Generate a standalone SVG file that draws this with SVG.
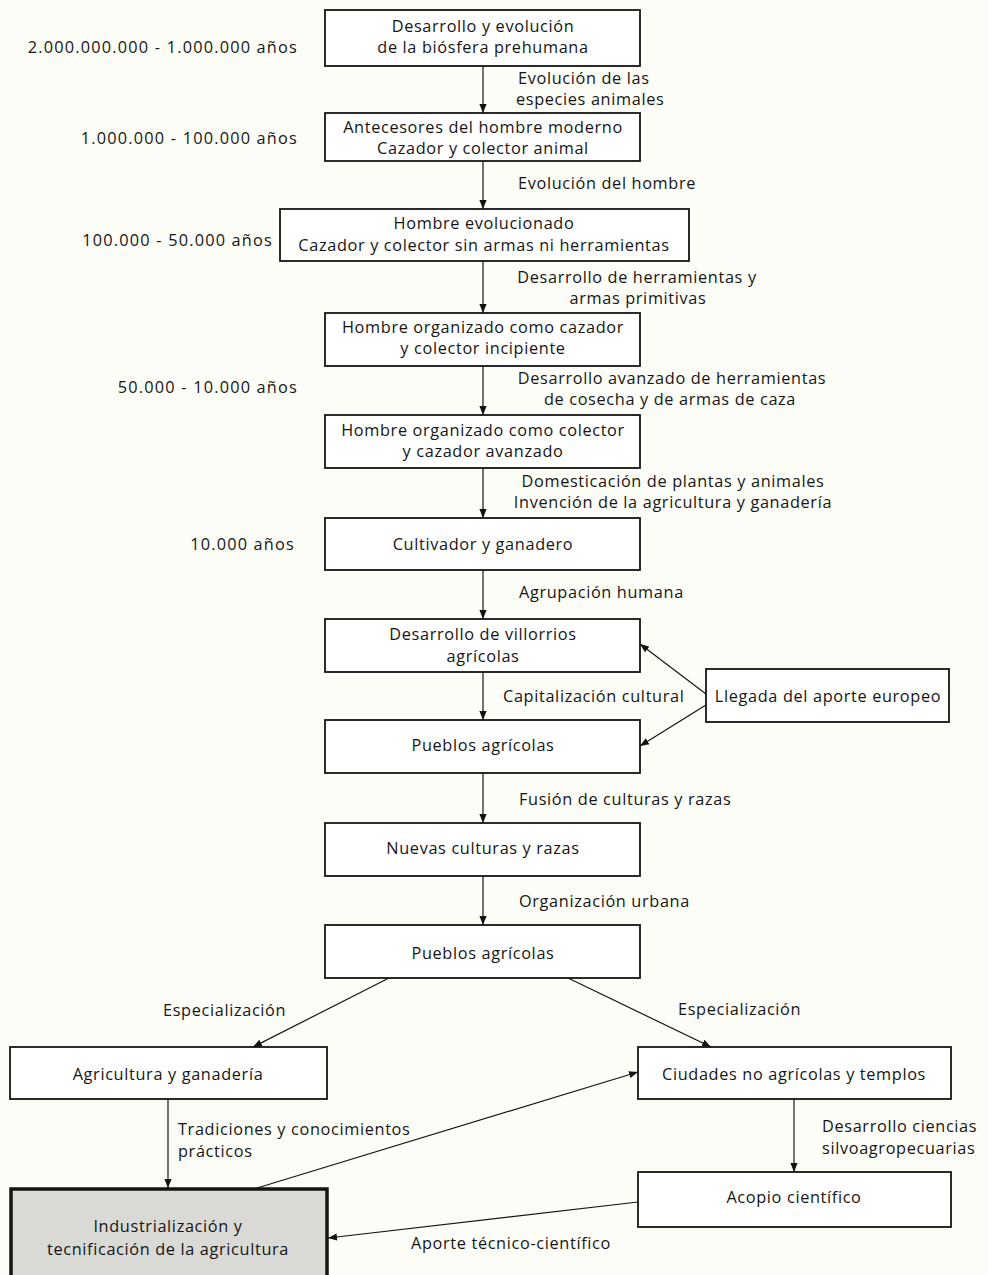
<svg xmlns="http://www.w3.org/2000/svg" width="988" height="1275" viewBox="0 0 988 1275">
<defs>
<marker id="ah" viewBox="0 0 10 10" refX="10" refY="5" markerWidth="9" markerHeight="9" markerUnits="userSpaceOnUse" orient="auto"><path d="M0,1 L10,5 L0,9 z" fill="#111"/></marker>
<style>
text{font-family:"Open Sans","Liberation Sans",sans-serif;font-size:16.3px;letter-spacing:0.65px;fill:#151515}
.c{text-anchor:middle}
.y{text-anchor:end;letter-spacing:1.2px}
.box{fill:#fff;stroke:#151515;stroke-width:1.8}
.hl{fill:#d9d9d6;stroke:#151515;stroke-width:3.5}
.e{stroke:#151515;stroke-width:1.2;fill:none;marker-end:url(#ah)}
</style>
</defs>
<rect width="988" height="1275" fill="#fdfdf7"/>
<g id="years">
<text x="298" y="53" class="y">2.000.000.000 - 1.000.000 años</text>
<text x="298" y="144" class="y">1.000.000 - 100.000 años</text>
<text x="273" y="246" class="y">100.000 - 50.000  años</text>
<text x="298" y="393" class="y">50.000 - 10.000 años</text>
<text x="295" y="550" class="y">10.000 años</text>
</g>
<g id="connectors">
<line class="e" x1="483" y1="66" x2="483" y2="113"/>
<line class="e" x1="483" y1="161" x2="483" y2="209"/>
<line class="e" x1="483" y1="261" x2="483" y2="313"/>
<line class="e" x1="483" y1="366" x2="483" y2="415"/>
<line class="e" x1="483" y1="468" x2="483" y2="518"/>
<line class="e" x1="483" y1="570" x2="483" y2="619"/>
<line class="e" x1="483" y1="672" x2="483" y2="720"/>
<line class="e" x1="483" y1="773" x2="483" y2="823"/>
<line class="e" x1="483" y1="876" x2="483" y2="925"/>
<line class="e" x1="706" y1="694" x2="640" y2="644"/>
<line class="e" x1="706" y1="705" x2="640" y2="746"/>
<line class="e" x1="389" y1="978" x2="253" y2="1047"/>
<line class="e" x1="568" y1="978" x2="711" y2="1047"/>
<line class="e" x1="168" y1="1099" x2="168" y2="1188"/>
<line class="e" x1="794" y1="1099" x2="794" y2="1172"/>
<line class="e" x1="257" y1="1188" x2="638" y2="1072"/>
<line class="e" x1="638" y1="1202" x2="328" y2="1238"/>
<text x="518" y="84">Evolución de las</text>
<text x="516" y="105">especies animales</text>
<text x="518" y="189">Evolución del hombre</text>
<text x="637" y="283" class="c">Desarrollo de herramientas y</text>
<text x="638" y="304" class="c">armas primitivas</text>
<text x="672" y="384" class="c">Desarrollo avanzado de herramientas</text>
<text x="670" y="405" class="c">de cosecha y de armas de caza</text>
<text x="673" y="487" class="c">Domesticación de plantas y animales</text>
<text x="673" y="508" class="c">Invención de la agricultura y ganadería</text>
<text x="519" y="598">Agrupación humana</text>
<text x="503" y="702">Capitalización cultural</text>
<text x="519" y="805">Fusión de culturas y razas</text>
<text x="519" y="907">Organización urbana</text>
<text x="163" y="1016">Especialización</text>
<text x="678" y="1015">Especialización</text>
<text x="178" y="1135">Tradiciones y conocimientos</text>
<text x="178" y="1157">prácticos</text>
<text x="822" y="1132">Desarrollo ciencias</text>
<text x="822" y="1154">silvoagropecuarias</text>
<text x="411" y="1249">Aporte técnico-científico</text>
</g>
<g id="n1"><rect class="box" x="325" y="10" width="315" height="56"/><text x="483" y="32" class="c">Desarrollo y evolución</text><text x="483" y="53" class="c">de la biósfera prehumana</text></g>
<g id="n2"><rect class="box" x="325" y="113" width="315" height="48"/><text x="483" y="133" class="c">Antecesores del hombre moderno</text><text x="483" y="154" class="c">Cazador y colector animal</text></g>
<g id="n3"><rect class="box" x="280" y="209" width="409" height="52"/><text x="484" y="229" class="c">Hombre evolucionado</text><text x="484" y="251" class="c">Cazador y colector sin armas ni herramientas</text></g>
<g id="n4"><rect class="box" x="325" y="313" width="315" height="53"/><text x="483" y="333" class="c">Hombre organizado como cazador</text><text x="483" y="354" class="c">y colector incipiente</text></g>
<g id="n5"><rect class="box" x="325" y="415" width="315" height="53"/><text x="483" y="436" class="c">Hombre organizado como colector</text><text x="483" y="457" class="c">y cazador avanzado</text></g>
<g id="n6"><rect class="box" x="325" y="518" width="315" height="52"/><text x="483" y="550" class="c">Cultivador y ganadero</text></g>
<g id="n7"><rect class="box" x="325" y="619" width="315" height="53"/><text x="483" y="640" class="c">Desarrollo de villorrios</text><text x="483" y="662" class="c">agrícolas</text></g>
<g id="n8"><rect class="box" x="325" y="720" width="315" height="53"/><text x="483" y="751" class="c">Pueblos agrícolas</text></g>
<g id="n9"><rect class="box" x="325" y="823" width="315" height="53"/><text x="483" y="854" class="c">Nuevas culturas y razas</text></g>
<g id="n10"><rect class="box" x="325" y="925" width="315" height="53"/><text x="483" y="959" class="c">Pueblos agrícolas</text></g>
<g id="n11"><rect class="box" x="706" y="669" width="243" height="53"/><text x="828" y="702" class="c">Llegada del aporte europeo</text></g>
<g id="n12"><rect class="box" x="10" y="1047" width="317" height="52"/><text x="168" y="1080" class="c">Agricultura y ganadería</text></g>
<g id="n13"><rect class="box" x="638" y="1047" width="313" height="52"/><text x="794" y="1080" class="c">Ciudades no agrícolas y templos</text></g>
<g id="n14"><rect class="box" x="638" y="1172" width="313" height="55"/><text x="794" y="1203" class="c">Acopio científico</text></g>
<g id="n15"><rect class="hl" x="11" y="1189" width="316" height="90"/><text x="168" y="1232" class="c">Industrialización y</text><text x="168" y="1255" class="c">tecnificación de la agricultura</text></g>
</svg>
